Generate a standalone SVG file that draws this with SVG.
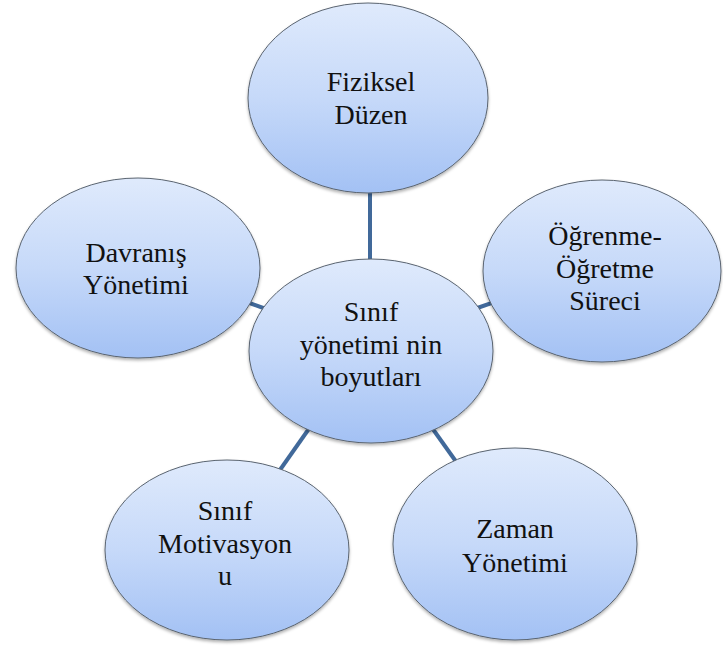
<svg xmlns="http://www.w3.org/2000/svg" width="723" height="648" viewBox="0 0 723 648">
  <defs>
    <linearGradient id="fill" x1="0" y1="0" x2="0" y2="1">
      <stop offset="0" stop-color="#dfeafc"/>
      <stop offset="0.5" stop-color="#c6d9f9"/>
      <stop offset="1" stop-color="#a3c1f4"/>
    </linearGradient>
    <filter id="sh" x="-10%" y="-10%" width="120%" height="125%">
      <feDropShadow dx="0" dy="2" stdDeviation="1.5" flood-color="#000" flood-opacity="0.3"/>
    </filter>
  </defs>
  <style>
    .node ellipse { fill: url(#fill); stroke: #5a6470; stroke-width: 1; filter: url(#sh); }
    text { font-family: Liberation Serif, Times New Roman, Tinos, Noto Serif, DejaVu Serif, serif; font-size: 28px; fill: #111; text-anchor: middle; }
    .conn line { stroke: #41699a; stroke-width: 4; }
  </style>
  <rect width="723" height="648" fill="#fff"/>
  <g id="connectors" class="conn">
    <line x1="370" y1="180" x2="370" y2="275"/>
    <line x1="230" y1="296" x2="280" y2="314"/>
    <line x1="460" y1="314" x2="512" y2="296"/>
    <line x1="320" y1="413" x2="275" y2="477"/>
    <line x1="420" y1="411" x2="467" y2="477"/>
  </g>
  <g id="fiziksel" class="node">
    <ellipse cx="368" cy="98" rx="120" ry="95"/>
    <text x="371" y="91" font-family="Liberation Serif">Fiziksel</text>
    <text x="371" y="124" font-family="Liberation Serif">Düzen</text>
  </g>
  <g id="davranis" class="node">
    <ellipse cx="138" cy="268" rx="122" ry="90"/>
    <text x="136" y="262">Davranış</text>
    <text x="136" y="294">Yönetimi</text>
  </g>
  <g id="ogrenme" class="node">
    <ellipse cx="602" cy="271" rx="119" ry="91"/>
    <text x="605" y="245">Öğrenme-</text>
    <text x="605" y="278">Öğretme</text>
    <text x="605" y="310">Süreci</text>
  </g>
  <g id="motivasyon" class="node">
    <ellipse cx="227" cy="550" rx="122" ry="90"/>
    <text x="225" y="520">Sınıf</text>
    <text x="225" y="553">Motivasyon</text>
    <text x="225" y="585">u</text>
  </g>
  <g id="zaman" class="node">
    <ellipse cx="515" cy="544" rx="122" ry="96"/>
    <text x="515" y="538">Zaman</text>
    <text x="515" y="572">Yönetimi</text>
  </g>
  <g id="merkez" class="node">
    <ellipse cx="371" cy="351" rx="122" ry="92"/>
    <text x="371" y="321">Sınıf</text>
    <text x="371" y="354">yönetimi nin</text>
    <text x="371" y="386">boyutları</text>
  </g>
</svg>
